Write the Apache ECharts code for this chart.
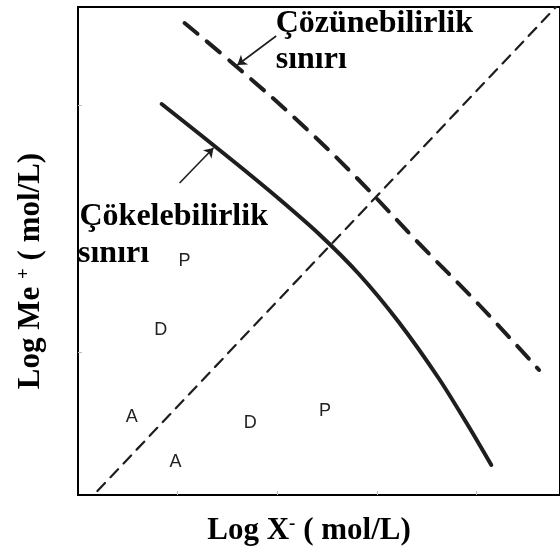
<!DOCTYPE html>
<html><head><meta charset="utf-8">
<script src="https://cdn.jsdelivr.net/npm/echarts@6/dist/echarts.min.js"></script>
<style>html,body{margin:0;padding:0;background:#fff}#c{width:560px;height:554px}</style>
</head><body><div id="c"></div>
<script>
// ---- data (axis units: 1 unit = one original tick step) ----
const diagX = [0.195, 4.80];
const diagY = [0.04, 4.88];
// Çözünebilirlik sınırı (solubility boundary, heavy dashed)
const solX = [1.07, 1.62, 2.22, 2.82, 3.42, 4.02, 4.63];
const solY = [4.72, 4.26, 3.73, 3.15, 2.52, 1.91, 1.25];
// Çökelebilirlik sınırı (precipitation boundary, solid)
const precX = [0.84, 1.22, 1.62, 2.02, 2.42, 2.82, 3.22, 3.62, 3.92, 4.15];
const precY = [3.91, 3.61, 3.29, 2.96, 2.61, 2.21, 1.73, 1.17, 0.69, 0.30];
// arrows: tail -> head
const arrowFromX = [1.99, 1.02];
const arrowFromY = [4.59, 3.12];
const arrowToX = [1.60, 1.36];
const arrowToY = [4.30, 3.47];
// boundary labels
const labelText = ['Çözünebilirlik', 'sınırı', 'Çökelebilirlik', 'sınırı'];
const labelX = [1.985, 1.985, 0.015, 0.0];
const labelY = [4.715, 4.355, 2.785, 2.415];
// region letters
const regionText = ['P', 'D', 'A', 'A', 'D', 'P'];
const regionX = [1.07, 0.83, 0.54, 0.98, 1.73, 2.48];
const regionY = [2.34, 1.65, 0.78, 0.33, 0.72, 0.84];
const xTickValues = [1, 2, 3, 4];
const yTickValues = [1.43, 3.90];

// ---- chart ----
const serif = "'Liberation Serif', 'Times New Roman', serif";
const ink = '#1e1e1e';
const pts = (xs, ys) => xs.map((x, i) => [x, ys[i]]);
const chart = echarts.init(document.getElementById('c'), null, {renderer: 'canvas'});
const titleRich = {
  t: {fontFamily: serif, fontWeight: 'bold', fontSize: 31, color: '#000'},
  s: {fontFamily: serif, fontWeight: 'bold', fontSize: 19, color: '#000', verticalAlign: 'top'}
};
chart.setOption({
  animation: false,
  backgroundColor: '#fff',
  grid: {left: 78, top: 7, width: 484, height: 488, show: true, borderColor: '#000', borderWidth: 2},
  xAxis: {
    type: 'value', min: 0, max: 4.84, interval: 1,
    axisLine: {show: false}, splitLine: {show: false}, axisLabel: {show: false},
    axisTick: {show: true, inside: true, length: 4, customValues: xTickValues, lineStyle: {color: '#bbb', width: 1}},
    name: '{t|Log X}{s|-}{t| ( mol/L)}', nameLocation: 'middle', nameGap: 20,
    nameTextStyle: {rich: titleRich, padding: [0, 20, 0, 0]}
  },
  yAxis: {
    type: 'value', min: 0, max: 4.88, interval: 1,
    axisLine: {show: false}, splitLine: {show: false}, axisLabel: {show: false},
    axisTick: {show: true, inside: true, length: 4, customValues: yTickValues, lineStyle: {color: '#bbb', width: 1}},
    name: '{t|Log Me }{s|+}{t| ( mol/L)}', nameLocation: 'middle', nameGap: 32, nameRotate: 90,
    nameTextStyle: {rich: titleRich, padding: [0, 40, 0, 0]}
  },
  series: [
    {type: 'line', data: pts(diagX, diagY), symbol: 'none', silent: true,
     lineStyle: {color: ink, width: 2.2, type: [11, 8], cap: 'round'}},
    {type: 'line', data: pts(solX, solY), symbol: 'none', smooth: 0.4, silent: true,
     lineStyle: {color: ink, width: 4, type: [17, 12], cap: 'round'}},
    {type: 'line', data: pts(precX, precY), symbol: 'none', smooth: 0.3, silent: true,
     lineStyle: {color: ink, width: 4, cap: 'round'}},
    {type: 'lines', coordinateSystem: 'cartesian2d', silent: true,
     symbol: ['none', 'arrow'], symbolSize: 9,
     lineStyle: {color: ink, width: 1.6, opacity: 1},
     data: arrowFromX.map((x, i) => ({coords: [[x, arrowFromY[i]], [arrowToX[i], arrowToY[i]]]}))},
    {type: 'scatter', symbolSize: 0, silent: true, z: 5,
     itemStyle: {opacity: 1, color: '#000'},
     data: labelText.map((t, i) => ({name: t, value: [labelX[i], labelY[i]]})),
     label: {show: true, position: 'right', distance: 0, formatter: '{b}', opacity: 1,
       fontFamily: serif, fontWeight: 'bold', fontSize: 32, color: '#000'}},
    {type: 'scatter', symbolSize: 0, silent: true, z: 5,
     itemStyle: {opacity: 1, color: '#000'},
     data: regionText.map((t, i) => ({name: t, value: [regionX[i], regionY[i]]})),
     label: {show: true, position: 'inside', formatter: '{b}', opacity: 1,
       textBorderWidth: 0,
       fontFamily: "'Liberation Sans', Arial, sans-serif", fontSize: 18, color: '#222'}}
  ]
});
</script></body></html>
